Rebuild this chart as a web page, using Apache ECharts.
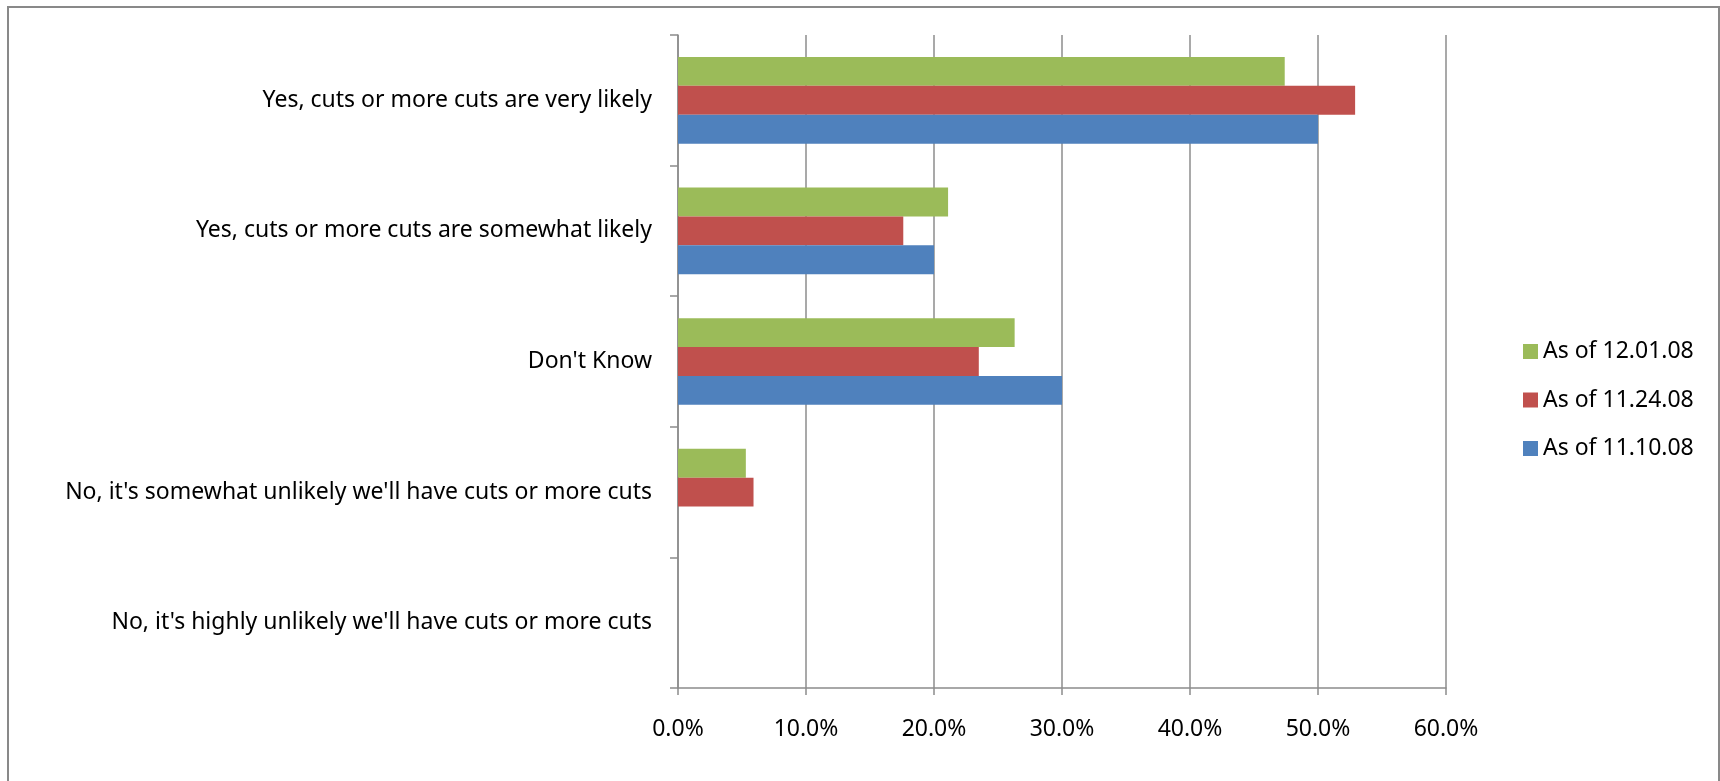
<!DOCTYPE html>
<html>
<head>
<meta charset="utf-8">
<script src="https://cdn.jsdelivr.net/npm/echarts@6/dist/echarts.min.js"></script>
<style>
html,body{margin:0;padding:0;background:#fff;}
#chart{width:1720px;height:781px;}
</style>
</head>
<body>
<div id="chart"></div>
<script>
// Categories listed bottom-to-top (as on the value axis)
const categories = [
  "No, it's highly unlikely we'll have cuts or more cuts",
  "No, it's somewhat unlikely we'll have cuts or more cuts",
  "Don't Know",
  "Yes, cuts or more cuts are somewhat likely",
  "Yes, cuts or more cuts are very likely"
];
const seriesNames = ["As of 12.01.08", "As of 11.24.08", "As of 11.10.08"];
const values_120108 = [0, 5.3, 26.3, 21.1, 47.4];
const values_112408 = [0, 5.9, 23.5, 17.6, 52.9];
const values_111008 = [0, 0, 30.0, 20.0, 50.0];
const xTicks = [0, 10, 20, 30, 40, 50, 60];

const colors = ["#9BBB59", "#C0504D", "#4F81BD"];
const FONT = "Noto Sans";
const chart = echarts.init(document.getElementById('chart'));
const allValues = [values_120108, values_112408, values_111008];

chart.setOption({
  animation: false,
  backgroundColor: '#fff',
  graphic: [{
    type: 'rect',
    shape: {x: 8, y: 7, width: 1711, height: 800},
    style: {fill: 'none', stroke: '#898989', lineWidth: 2},
    silent: true
  }],
  legend: {
    orient: 'vertical',
    left: 1518,
    top: 335,
    itemWidth: 15,
    itemHeight: 15,
    itemGap: 25.5,
    icon: 'rect',
    data: seriesNames,
    textStyle: {fontFamily: FONT, fontSize: 23, color: '#000'}
  },
  grid: {left: 678, right: 274, top: 35, bottom: 93, containLabel: false},
  xAxis: {
    type: 'value',
    min: xTicks[0],
    max: xTicks[xTicks.length - 1],
    interval: xTicks[1] - xTicks[0],
    axisLine: {show: true, lineStyle: {color: '#8c8c8c', width: 1.5}},
    axisTick: {show: true, length: 7, lineStyle: {color: '#8c8c8c', width: 1.5}},
    splitLine: {show: true, lineStyle: {color: '#8c8c8c', width: 1.5}},
    axisLabel: {
      margin: 30,
      fontFamily: FONT, fontSize: 23, color: '#000',
      formatter: v => v.toFixed(1) + '%'
    }
  },
  yAxis: {
    type: 'category',
    data: categories,
    axisLine: {show: true, lineStyle: {color: '#8c8c8c', width: 1.5}},
    axisTick: {show: true, length: 8, lineStyle: {color: '#8c8c8c', width: 1.5}},
    axisLabel: {margin: 26, fontFamily: FONT, fontSize: 23, color: '#000'}
  },
  series: seriesNames.map((name, i) => ({
    name: name,
    type: 'bar',
    data: allValues[i],
    barGap: '0%',
    barCategoryGap: '33.6%',
    itemStyle: {color: colors[i]}
  }))
});
</script>
</body>
</html>
